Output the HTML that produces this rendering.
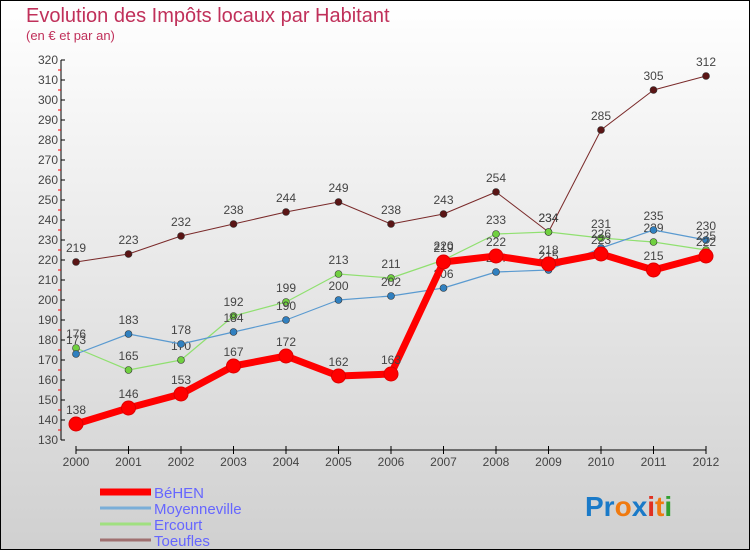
<!DOCTYPE html>
<html><head><meta charset="utf-8"><style>
body{margin:0}
#c{width:750px;height:550px;position:relative;box-sizing:border-box;border:1px solid #000;background:linear-gradient(#fff,#d0d0d0);font-family:"Liberation Sans",sans-serif;overflow:hidden}
</style></head><body>
<div id="c">
<svg id="s" width="750" height="550" style="position:absolute;left:-1px;top:-1px">
<text x="26" y="22" font-size="20" fill="#c0305a">Evolution des Impôts locaux par Habitant</text>
<text x="26" y="40" font-size="13" fill="#c0305a">(en € et par an)</text>
<g id="axes"></g><g id="series"></g><g id="legend"></g>
<text x="585" y="516" font-size="28" font-weight="bold"><tspan fill="#1a7ac8">Pr</tspan><tspan fill="#f07a10">o</tspan><tspan fill="#1a7ac8">x</tspan><tspan fill="#e03020">i</tspan><tspan fill="#f07a10">t</tspan><tspan fill="#30a030">i</tspan></text>
</svg>
</div>
<script>
const years=["2000","2001","2002","2003","2004","2005","2006","2007","2008","2009","2010","2011","2012"];
const yTicks=[130,140,150,160,170,180,190,200,210,220,230,240,250,260,270,280,290,300,310,320];
const behen=[138,146,153,167,172,162,163,219,222,218,223,215,222];
const moyenneville=[173,183,178,184,190,200,202,206,214,215,226,235,230];
const ercourt=[176,165,170,192,199,213,211,220,233,234,231,229,225];
const toeufles=[219,223,232,238,244,249,238,243,254,234,285,305,312];
const seriesNames=["BéHEN","Moyenneville","Ercourt","Toeufles"];
const NS="http://www.w3.org/2000/svg";
const X=i=>76+i*52.5, Y=v=>440-(v-130)*2;
function mk(tag,attrs,parent){const e=document.createElementNS(NS,tag);for(const k in attrs)e.setAttribute(k,attrs[k]);parent.appendChild(e);return e;}
const ax=document.getElementById('axes');
let yl=mk('line',{x1:61,y1:60,x2:61,y2:440,stroke:'#000'},ax);


yTicks.forEach(v=>{
 mk('line',{x1:61,y1:Y(v),x2:65,y2:Y(v),stroke:'#000'},ax);
 if(v<320)mk('line',{x1:58,y1:Y(v)-10,x2:61,y2:Y(v)-10,stroke:'#f00'},ax);
 const t=mk('text',{x:58,y:Y(v)+4,'font-size':12,fill:'#444','text-anchor':'end'},ax);t.textContent=v;
 
 
});
let xl=mk('line',{x1:76,y1:450,x2:706,y2:450,stroke:'#000'},ax);


years.forEach((y,i)=>{
 mk('line',{x1:X(i),y1:446,x2:X(i),y2:454,stroke:'#000'},ax);
 const t=mk('text',{x:X(i),y:466,'font-size':12,fill:'#444','text-anchor':'middle'},ax);t.textContent=y;
 
 
});
const sg=document.getElementById('series');
const defs=[[toeufles,'#7a2a2a','#5a1515',1,3.5],[ercourt,'#90e070','#70d040',1.2,3.5],[moyenneville,'#5a9ad0','#3080c0',1.2,3.5],[behen,'#f00','#f00',7,7]];
const names=['toeufles','ercourt','moyenneville','behen'];
defs.forEach(([d,c,pc,w,r],k)=>{
 const g=mk('g',{},sg);
 
 
 const p=mk('polyline',{points:d.map((v,i)=>X(i)+','+Y(v)).join(' '),fill:'none',stroke:c,'stroke-width':w,'stroke-linejoin':'round'},g);
 
 
 d.forEach((v,i)=>{
  const pt=mk('circle',{cx:X(i),cy:Y(v),r:r,fill:pc,stroke:k==3?'#d00':'#333','stroke-width':k==3?1:0.6},g);
  
  
  const t=mk('text',{x:X(i),y:Y(v)-10,'font-size':12,fill:'#444','text-anchor':'middle'},g);t.textContent=v;
  
  
 });
});
const lg=document.getElementById('legend');
const lc=['#f00','#7aaed8','#a0e080','#a07070'],lw=[7,3,3,3];
seriesNames.forEach((n,i)=>{
 const y=492+i*16;
 const e=mk('g',{},lg);
 
 
 mk('line',{x1:100,y1:y,x2:151,y2:y,stroke:lc[i],'stroke-width':lw[i]},e);
 const t=mk('text',{x:154,y:y+6,'font-size':15,fill:'#6666ff'},e);t.textContent=n;
});
</script>
</body></html>
